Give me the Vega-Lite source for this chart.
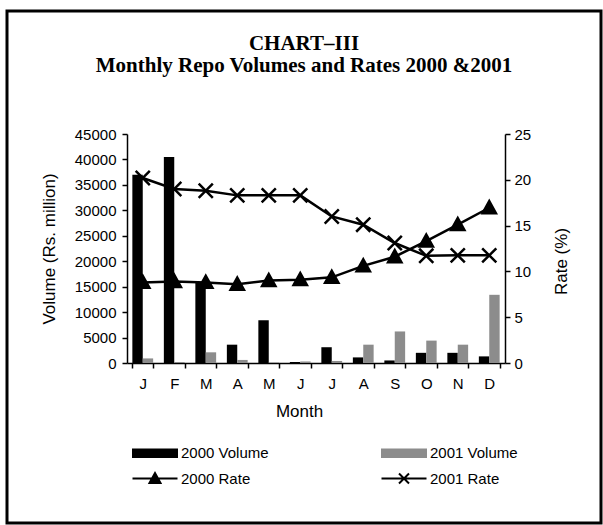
{
  "$schema": "https://vega.github.io/schema/vega-lite/v6.json",
  "width": 594,
  "height": 512,
  "autosize": {"type": "none"},
  "padding": {"left": 7, "top": 11, "right": 2, "bottom": 2},
  "background": "white",
  "config": {
    "view": {"stroke": "black", "strokeWidth": 3},
    "font": "Liberation Sans",
    "axis": {
      "labelFont": "Liberation Sans", "labelFontSize": 15, "labelColor": "black",
      "titleFont": "Liberation Sans", "titleFontSize": 17, "titleFontWeight": "normal", "titleColor": "black",
      "domainColor": "black", "tickColor": "black", "grid": false, "domainWidth": 1.5, "tickWidth": 1.5
    },
    "legend": {
      "orient": "none", "legendX": 123, "legendY": 434, "direction": "horizontal", "columns": 2,
      "symbolSize": 100, "labelOffset": 36, "columnPadding": 108, "rowPadding": 7,
      "labelFont": "Liberation Sans", "labelFontSize": 15, "labelColor": "black", "gridAlign": "all", "padding": 0,
      "symbolStrokeWidth": 2, "symbolOpacity": 1
    }
  },
  "title": {
    "text": "CHART–III",
    "subtitle": "Monthly Repo Volumes and Rates 2000 &2001",
    "font": "Liberation Serif", "fontSize": 21, "fontWeight": "bold", "color": "black",
    "subtitleFont": "Liberation Serif", "subtitleFontSize": 21, "subtitleFontWeight": "bold", "subtitleColor": "black",
    "subtitlePadding": 1,
    "anchor": "middle", "frame": "group", "offset": -65
  },
  "datasets": {
    "volumes": [
      {"month": "Jan", "series": "2000 Volume", "volume": 37000},
      {"month": "Feb", "series": "2000 Volume", "volume": 40500},
      {"month": "Mar", "series": "2000 Volume", "volume": 15900},
      {"month": "Apr", "series": "2000 Volume", "volume": 3600},
      {"month": "May", "series": "2000 Volume", "volume": 8400},
      {"month": "Jun", "series": "2000 Volume", "volume": 200},
      {"month": "Jul", "series": "2000 Volume", "volume": 3100},
      {"month": "Aug", "series": "2000 Volume", "volume": 1100},
      {"month": "Sep", "series": "2000 Volume", "volume": 500},
      {"month": "Oct", "series": "2000 Volume", "volume": 2000},
      {"month": "Nov", "series": "2000 Volume", "volume": 2000},
      {"month": "Dec", "series": "2000 Volume", "volume": 1300},
      {"month": "Jan", "series": "2001 Volume", "volume": 900},
      {"month": "Feb", "series": "2001 Volume", "volume": 200},
      {"month": "Mar", "series": "2001 Volume", "volume": 2100},
      {"month": "Apr", "series": "2001 Volume", "volume": 600},
      {"month": "May", "series": "2001 Volume", "volume": 100},
      {"month": "Jun", "series": "2001 Volume", "volume": 300},
      {"month": "Jul", "series": "2001 Volume", "volume": 400},
      {"month": "Aug", "series": "2001 Volume", "volume": 3600},
      {"month": "Sep", "series": "2001 Volume", "volume": 6200},
      {"month": "Oct", "series": "2001 Volume", "volume": 4400},
      {"month": "Nov", "series": "2001 Volume", "volume": 3600},
      {"month": "Dec", "series": "2001 Volume", "volume": 13400}
    ],
    "rates": [
      {"month": "Jan", "series": "2000 Rate", "rate": 8.8},
      {"month": "Feb", "series": "2000 Rate", "rate": 8.9},
      {"month": "Mar", "series": "2000 Rate", "rate": 8.8},
      {"month": "Apr", "series": "2000 Rate", "rate": 8.6},
      {"month": "May", "series": "2000 Rate", "rate": 9.0},
      {"month": "Jun", "series": "2000 Rate", "rate": 9.1},
      {"month": "Jul", "series": "2000 Rate", "rate": 9.35},
      {"month": "Aug", "series": "2000 Rate", "rate": 10.6},
      {"month": "Sep", "series": "2000 Rate", "rate": 11.6},
      {"month": "Oct", "series": "2000 Rate", "rate": 13.3},
      {"month": "Nov", "series": "2000 Rate", "rate": 15.1},
      {"month": "Dec", "series": "2000 Rate", "rate": 16.95},
      {"month": "Jan", "series": "2001 Rate", "rate": 20.2},
      {"month": "Feb", "series": "2001 Rate", "rate": 19.0},
      {"month": "Mar", "series": "2001 Rate", "rate": 18.8},
      {"month": "Apr", "series": "2001 Rate", "rate": 18.3},
      {"month": "May", "series": "2001 Rate", "rate": 18.3},
      {"month": "Jun", "series": "2001 Rate", "rate": 18.3},
      {"month": "Jul", "series": "2001 Rate", "rate": 16.0},
      {"month": "Aug", "series": "2001 Rate", "rate": 15.1},
      {"month": "Sep", "series": "2001 Rate", "rate": 13.1},
      {"month": "Oct", "series": "2001 Rate", "rate": 11.7},
      {"month": "Nov", "series": "2001 Rate", "rate": 11.75},
      {"month": "Dec", "series": "2001 Rate", "rate": 11.75}
    ]
  },
  "layer": [
    {
      "data": {"name": "volumes"},
      "mark": {"type": "bar"},
      "encoding": {
        "x": {
          "field": "month", "type": "nominal",
          "sort": ["Jan","Feb","Mar","Apr","May","Jun","Jul","Aug","Sep","Oct","Nov","Dec"],
          "scale": {"range": [120, 498], "paddingInner": 0.34, "paddingOuter": 0.17},
          "axis": {
            "title": "Month", "offset": -160, "labelAngle": 0, "tickBand": "extent",
            "tickSize": 5, "labelPadding": 8, "titlePadding": 12, "titleX": 292,
            "labelExpr": "substring(datum.label, 0, 1)"
          }
        },
        "xOffset": {"field": "series", "type": "nominal", "sort": ["2000 Volume", "2001 Volume"]},
        "y": {
          "field": "volume", "type": "quantitative",
          "scale": {"domain": [0, 45000], "range": [352, 123], "nice": false},
          "axis": {
            "title": "Volume (Rs. million)", "offset": -120, "format": "d",
            "values": [0,5000,10000,15000,20000,25000,30000,35000,40000,45000],
            "tickSize": 5, "labelPadding": 6, "titlePadding": 16
          }
        },
        "color": {
          "field": "series", "type": "nominal",
          "scale": {"domain": ["2000 Volume", "2001 Volume"], "range": ["black", "#8c8c8c"]},
          "legend": null
        }
      }
    },
    {
      "data": {"name": "rates"},
      "encoding": {
        "x": {"field": "month", "type": "nominal", "sort": ["Jan","Feb","Mar","Apr","May","Jun","Jul","Aug","Sep","Oct","Nov","Dec"]},
        "y": {
          "field": "rate", "type": "quantitative",
          "scale": {"domain": [0, 25], "range": [352, 123], "nice": false},
          "axis": {
            "orient": "right", "title": "Rate (%)", "offset": -96,
            "values": [0,5,10,15,20,25], "tickSize": 5, "labelPadding": 4,
            "titleAngle": 270, "titlePadding": 40, "titleY": 250
          }
        }
      },
      "layer": [
        {"mark": {"type": "line", "color": "black", "strokeWidth": 2.5}, "encoding": {"detail": {"field": "series"}}},
        {
          "transform": [{"filter": "datum.series == '2000 Rate'"}],
          "mark": {"type": "point", "shape": "M-1,0.8L0,-1L1,0.8Z", "filled": true, "fill": "black", "stroke": "black", "strokeWidth": 2, "size": 200, "opacity": 1}
        },
        {
          "transform": [{"filter": "datum.series == '2001 Rate'"}],
          "mark": {"type": "point", "shape": "M-1,-1L1,1M-1,1L1,-1", "filled": true, "fill": "black", "stroke": "black", "strokeWidth": 2.5, "size": 200, "opacity": 1}
        }
      ]
    },
    {
      "data": {"values": []},
      "mark": {"type": "point", "filled": true},
      "encoding": {
        "shape": {
          "field": "series", "type": "nominal", "title": null,
          "scale": {
            "domain": ["2000 Volume", "2001 Volume", "2000 Rate", "2001 Rate"],
            "range": ["M-0.9,-0.75H7.9V0.75H-0.9Z", "M-0.9,-0.75H7.9V0.75H-0.9Z", "M-1,0H8M2.4,0.9L3.5,-1.1L4.6,0.9Z", "M-1,0H8M2.5,-1L4.5,1M2.5,1L4.5,-1"]
          }
        },
        "fill": {
          "field": "series", "type": "nominal", "title": null,
          "scale": {"domain": ["2000 Volume", "2001 Volume", "2000 Rate", "2001 Rate"], "range": ["black", "#8c8c8c", "black", "black"]}
        },
        "stroke": {
          "field": "series", "type": "nominal", "title": null,
          "scale": {"domain": ["2000 Volume", "2001 Volume", "2000 Rate", "2001 Rate"], "range": ["black", "#8c8c8c", "black", "black"]}
        }
      }
    }
  ],
  "resolve": {"scale": {"y": "independent"}, "axis": {"y": "independent"}}
}
